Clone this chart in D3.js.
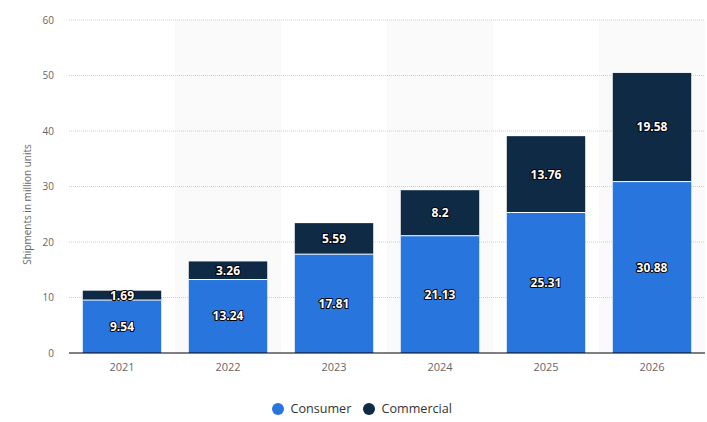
<!DOCTYPE html>
<html><head><meta charset="utf-8">
<script src="https://cdn.jsdelivr.net/npm/d3@7"></script>
<style>body{margin:0;background:#fff;}svg{display:block;font-family:"Open Sans",Arial,sans-serif;}</style>
</head><body><div id="chart"></div>
<script>
const years = ["2021","2022","2023","2024","2025","2026"];
const consumer = [9.54, 13.24, 17.81, 21.13, 25.31, 30.88];
const commercial = [1.69, 3.26, 5.59, 8.2, 13.76, 19.58];
const yTicks = [0,10,20,30,40,50,60];
const seriesNames = ["Consumer","Commercial"];
const colors = ["#2876dd","#0f2a44"];

const W=707,H=422;
const m={left:69,right:2,top:20,bottom:69};
const svg=d3.select("#chart").append("svg").attr("width",W).attr("height",H);
const x=d3.scaleBand().domain(years).range([m.left,W-m.right]).paddingInner(0.26).paddingOuter(0.13);
const xb=d3.scaleBand().domain(years).range([m.left,W-m.right]);
const y=d3.scaleLinear().domain([0,60]).range([H-m.bottom,m.top]);

svg.selectAll("rect.bg").data(years.filter((d,i)=>i%2===1)).enter().append("rect")
 .attr("x",d=>xb(d)).attr("y",m.top).attr("width",xb.bandwidth()).attr("height",y(0)-m.top).attr("fill","#fafafa");

svg.selectAll("line.grid").data(yTicks.filter(t=>t>0)).enter().append("line")
 .attr("x1",m.left).attr("x2",W-m.right).attr("y1",d=>y(d)).attr("y2",d=>y(d))
 .attr("stroke","#cfcfcf").attr("stroke-dasharray","1,1").attr("stroke-width",1);

const yAxis=d3.axisLeft(y).tickValues(yTicks).tickSize(0).tickPadding(15);
const ga=svg.append("g").attr("transform",`translate(${m.left},0)`).call(yAxis);
ga.select(".domain").remove();
ga.selectAll("text").attr("fill","#666").attr("font-size",10).attr("font-family","'Open Sans',Arial,sans-serif");

svg.append("text").attr("transform",`translate(31,${(y(0)+y(60))/2+18}) rotate(-90)`)
 .attr("text-anchor","middle").attr("font-size",10).attr("fill","#666").text("Shipments in million units");

const data=years.map((yr,i)=>({year:yr,Consumer:consumer[i],Commercial:commercial[i]}));
const stack=d3.stack().keys(seriesNames)(data);
stack.forEach((s,si)=>{
  svg.append("g").selectAll("rect").data(s).enter().append("rect")
   .attr("x",d=>x(d.data.year)).attr("width",x.bandwidth())
   .attr("y",d=>y(d[1])).attr("height",d=>y(d[0])-y(d[1]))
   .attr("fill",colors[si]);
});
svg.selectAll("line.sep").data(data).enter().append("line")
 .attr("x1",d=>x(d.year)).attr("x2",d=>x(d.year)+x.bandwidth())
 .attr("y1",d=>y(d.Consumer)).attr("y2",d=>y(d.Consumer)).attr("stroke","#fff").attr("stroke-width",1);

stack.forEach((s,si)=>{
  svg.selectAll(null).data(s).enter().append("text")
   .attr("x",d=>x(d.data.year)+x.bandwidth()/2).attr("y",d=>(y(d[0])+y(d[1]))/2)
   .attr("dy","0.35em").attr("text-anchor","middle").attr("font-size",12).attr("font-weight","bold")
   .attr("fill","#fff").attr("stroke","#000").attr("stroke-width",2).attr("paint-order","stroke").attr("stroke-linejoin","round")
   .text(d=>seriesNames[si]==="Consumer"?d.data.Consumer:d.data.Commercial);
});

svg.append("line").attr("x1",m.left).attr("x2",W-m.right).attr("y1",y(0)).attr("y2",y(0)).attr("stroke","#000").attr("stroke-width",1);

const xa=svg.append("g").attr("transform",`translate(0,${y(0)})`).call(d3.axisBottom(xb).tickSize(0).tickPadding(10));
xa.select(".domain").remove();
xa.selectAll("text").attr("fill","#666").attr("font-size",11).attr("font-family","'Open Sans',Arial,sans-serif");

const lx=[278,369];
const lg=svg.selectAll("g.leg").data(seriesNames).enter().append("g").attr("transform",(d,i)=>`translate(${lx[i]},409)`);
lg.append("circle").attr("r",6).attr("fill",(d,i)=>colors[i]);
lg.append("text").attr("x",12.5).attr("dy","0.35em").attr("font-size",12.6).attr("fill","#333").text(d=>d);
</script></body></html>
